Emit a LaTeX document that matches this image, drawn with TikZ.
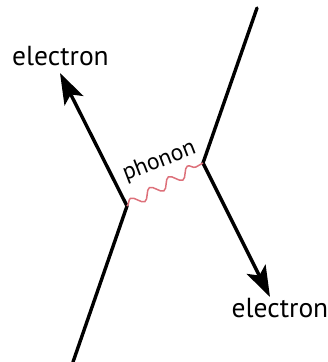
\documentclass[tikz,border=0pt]{standalone}
\usepackage{fontspec}
\setmainfont{PT Sans}
\usetikzlibrary{arrows.meta, decorations.pathmorphing}
\definecolor{cP}{RGB}{221,112,122}

\tikzset{
    fermion/.style={line width=3.4pt, line cap=round},
    fermarrow/.style={fermion, -{Stealth[length=31pt, width=21pt, inset=7pt]}},
    phononwave/.style={draw=cP, line width=1.5pt, decorate,
        decoration={snake, segment length=21.8pt, amplitude=5pt}},
    label/.style={font=\fontsize{27.5}{30}\selectfont, inner sep=0pt}
}

\begin{document}
\begin{tikzpicture}[x=1pt, y=-1pt]
    \useasboundingbox (0,0) rectangle (328,362);

    % Vertices and free ends
    \coordinate (vL) at (127,206);
    \coordinate (vR) at (203,163);
    \coordinate (inL) at (73,362);
    \coordinate (inR) at (257,8);
    \coordinate (outL) at (60,73);
    \coordinate (outR) at (270,297);

    % Labels
    \node[label, anchor=base] (eL) at (60.5,65) {electron};
    \node[label, anchor=base] (eR) at (280,317) {electron};
    \node[label, anchor=base, rotate=21, font=\fontsize{23.5}{26}\selectfont] (ph) at (161.5,167) {phonon};

    % Electron lines
    \draw[fermion] (inL) -- (vL);
    \draw[fermarrow] (vL) -- (outL);
    \draw[fermion] (inR) -- (vR);
    \draw[fermarrow] (vR) -- (outR);

    % Phonon exchange
    \draw[phononwave] (vL) -- (vR);
\end{tikzpicture}
\end{document}
